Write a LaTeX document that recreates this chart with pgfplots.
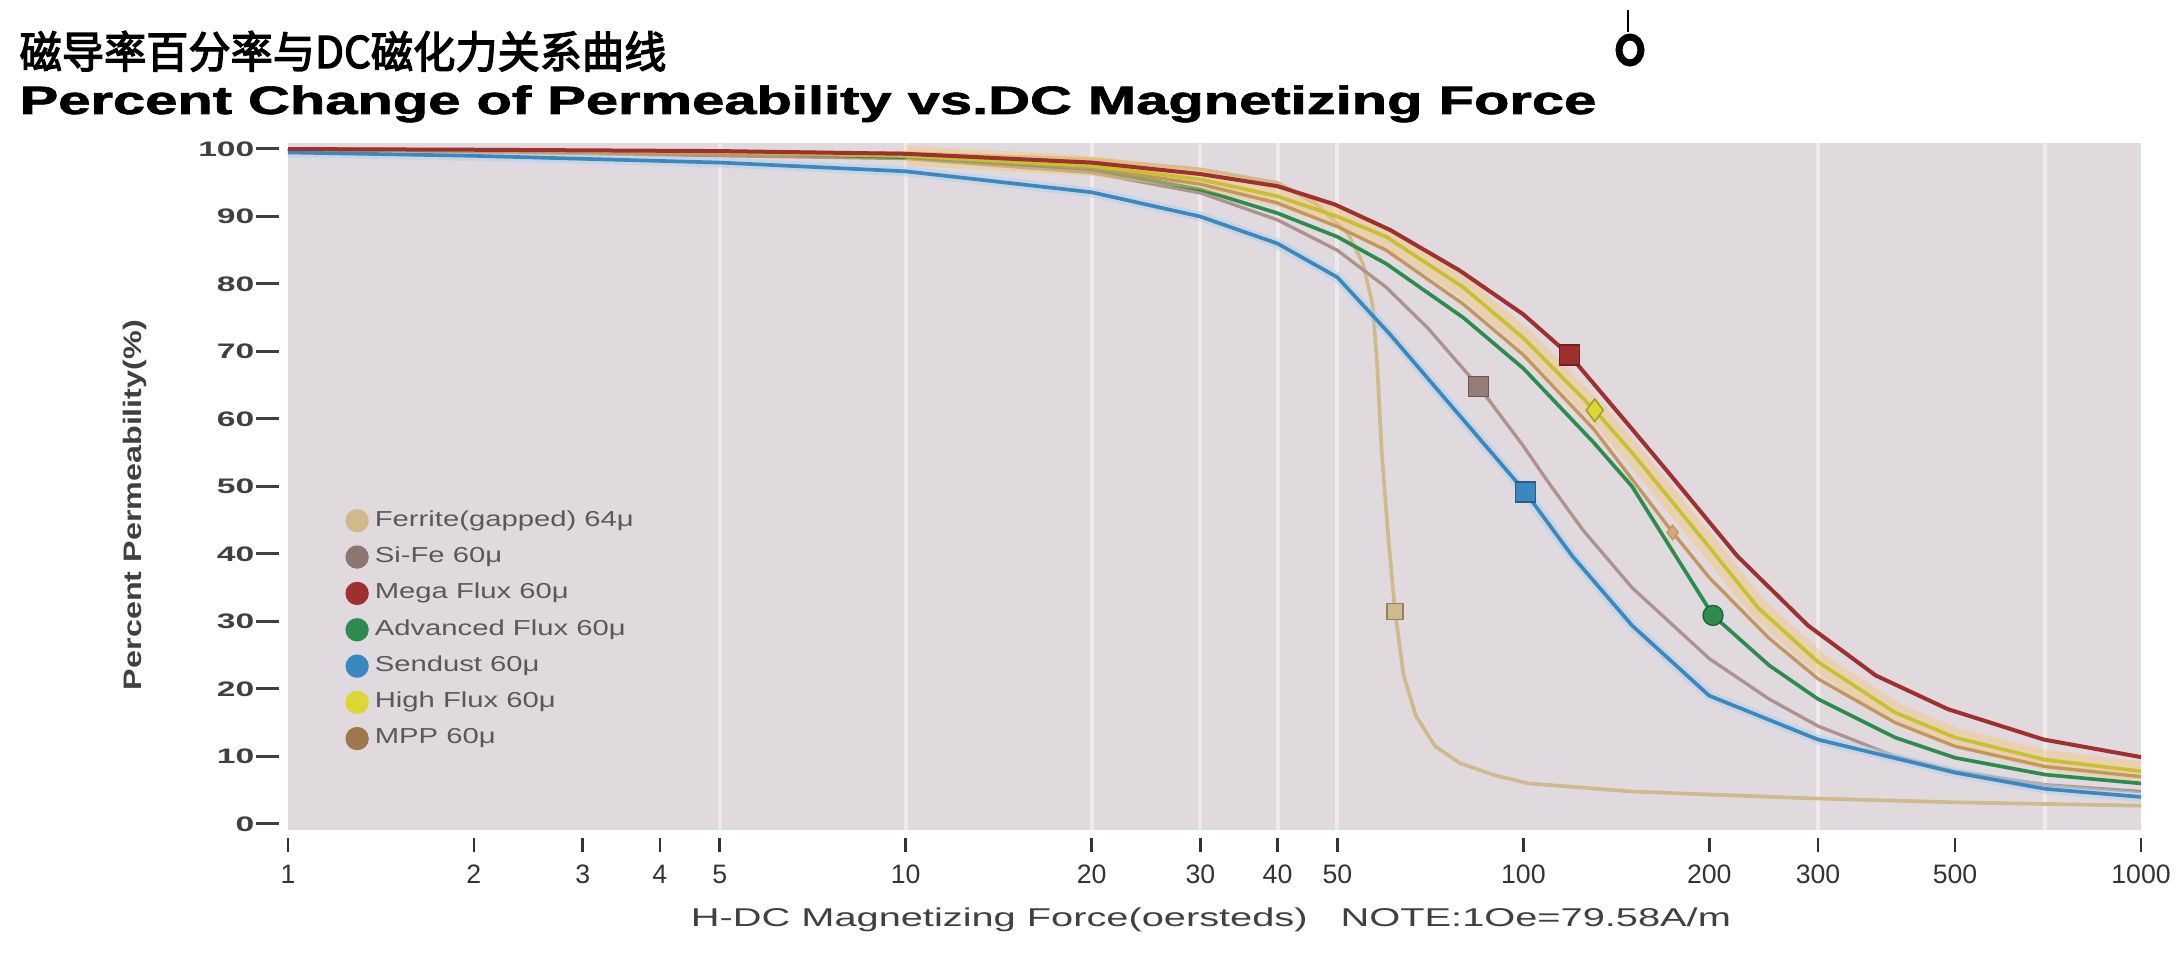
\documentclass[border=0pt]{standalone}
\usepackage{fontspec}
\setmainfont{Liberation Sans}
\newfontfamily\cjk[AutoFakeBold=3]{Noto Sans CJK SC}
\newfontfamily\heavy[AutoFakeBold=1.5]{Liberation Sans Bold}
\usepackage{graphicx}
\usepackage{pgfplots}
\pgfplotsset{compat=1.18}
\definecolor{bgc}{RGB}{224,218,222}
\definecolor{cred}{RGB}{160,48,46}
\definecolor{cyel}{RGB}{222,214,52}
\definecolor{cglow}{RGB}{244,196,120}
\definecolor{cmpp}{RGB}{196,150,92}
\definecolor{cgrn}{RGB}{44,140,78}
\definecolor{cblu}{RGB}{58,136,192}
\definecolor{csife}{RGB}{176,146,140}
\definecolor{cfer}{RGB}{206,186,138}
\newcommand\xt[1]{\rule{0.8pt}{4.2pt}\\#1}
\newcommand\yt[1]{\scalebox{1.6}[1]{\fontsize{6.3}{7}\selectfont\bfseries #1}\hspace{0.6pt}\rule[1.8pt]{6.9pt}{0.9pt}}
\newcommand\lgt[1]{\scalebox{1.35}[1]{#1}}
\begin{document}
\begin{tikzpicture}
\begin{axis}[
  xmode=log, xmin=1, xmax=1000, ymin=-0.9, ymax=100.9,
  scale only axis, width=555.9pt, height=206.1pt,
  axis line style={draw=none},
  axis background/.style={fill=bgc},
  tick style={draw=none},
  /pgf/number format/assume math mode=true,
  xtick={1,2,3,4,5,10,20,30,40,50,100,200,300,500,1000},
  xticklabels={\xt{1},\xt{2},\xt{3},\xt{4},\xt{5},\xt{10},\xt{20},\xt{30},\xt{40},\xt{50},\xt{100},\xt{200},\xt{300},\xt{500},\xt{1000}},
  xticklabel style={font=\fontsize{8}{9.6}\selectfont, align=center, anchor=north, inner sep=0pt, yshift=-2.1pt, text=black!80},
  minor xtick={},
  ytick={0,10,...,100},
  yticklabel={\yt{\pgfmathprintnumber{\tick}}},
  yticklabel style={anchor=east, inner sep=0pt, xshift=-2.4pt, text=black!75},
  extra x ticks={5,10,20,30,40,50,300,700},
  extra x tick labels={},
  extra x tick style={grid=major, major grid style={white, line width=1.2pt, opacity=0.45}},
  legend style={at={(0.031,0.476)}, anchor=north west, draw=none, fill=none,
    font=\fontsize{6.5}{8}\selectfont, row sep=0.7pt, inner sep=0pt, text=black!65},
  legend cell align=left,
]
\coordinate (BL) at (rel axis cs:0,0);
\coordinate (TR) at (rel axis cs:1,1);
% Ferrite
\addplot[forget plot, cfer, line width=1.1pt] coordinates {
(1,100) (10,99.4) (20,98.5) (30,97) (40,95) (46,92) (52,87.5) (55,83) (57,77) (58,68) (59,55) (60.5,42) (62,31.5) (64,22) (67,16) (72,11.5) (79,9) (90,7.2) (102,6) (150,4.8) (290,3.8) (500,3.2) (1000,2.7)};
% Si-Fe
\addplot[forget plot, csife, line width=1.0pt] coordinates {
(1,100) (10,98.6) (20,96.5) (30,93.5) (40,89.5) (50,85) (60,79.5) (70,73.5) (84.7,64.8) (100,56) (110,50.5) (125,43.5) (150,35) (200,24.5) (250,18.5) (300,14.5) (400,10) (500,7.8) (700,5.8) (1000,4.8)};
% Sendust
\addplot[forget plot, cblu!40, line width=3pt, opacity=0.5] coordinates {
(1,99.5) (2,99) (5,98) (10,96.7) (20,93.6) (30,90) (40,86) (50,81) (60.9,72.5) (78.9,60.5) (100.7,49.2) (120,39.7) (150,29.4) (200,19) (300,12.5) (500,7.6) (700,5.2) (1000,4)};
\addplot[forget plot, cblu, line width=1.1pt] coordinates {
(1,99.5) (2,99) (5,98) (10,96.7) (20,93.6) (30,90) (40,86) (50,81) (60.9,72.5) (78.9,60.5) (100.7,49.2) (120,39.7) (150,29.4) (200,19) (300,12.5) (500,7.6) (700,5.2) (1000,4)};
% Adv Flux
\addplot[forget plot, cgrn, line width=1.1pt] coordinates {
(1,100) (5,99.5) (10,98.8) (20,97) (30,94) (40,90.5) (50,87) (60,83) (80,75) (100,67.5) (130,56.5) (150,50) (202.8,30.9) (250,23.5) (300,18.5) (400,12.8) (500,9.8) (700,7.3) (1000,6)};
% High Flux glow + MPP + High Flux
\addplot[forget plot, cglow, line width=6pt, opacity=0.45] coordinates {
(10,99) (20,97.5) (30,95.5) (40,93) (50,90) (60,87) (80,79.5) (100,72) (130.5,61.3) (150,55) (200,41) (240,32) (300,24) (400,16.5) (500,12.8) (700,9.5) (1000,7.8)};
\addplot[forget plot, cmpp, line width=1.0pt] coordinates {
(1,100) (10,99) (20,97.2) (30,94.8) (40,92) (50,88.5) (60,85) (80,77) (100,69.5) (130,58.5) (174.5,43.2) (200,36.5) (250,27.5) (300,21.5) (400,15) (500,11.5) (700,8.5) (1000,7)};
\addplot[forget plot, cyel!90!black, line width=1.1pt] coordinates {
(1,100) (5,99.6) (10,99) (20,97.5) (30,95.5) (40,93) (50,90) (60,87) (80,79.5) (100,72) (130.5,61.3) (150,55) (200,41) (240,32) (300,24) (400,16.5) (500,12.8) (700,9.5) (1000,7.8)};
% Mega Flux
\addplot[forget plot, cred, line width=1.2pt] coordinates {
(1,100) (2,99.9) (5,99.7) (10,99.3) (20,98) (30,96.3) (40,94.5) (49.5,91.8) (60.9,88) (78.9,82) (100,75.5) (118.7,69.5) (150,58.5) (172,52) (222,39.7) (289,29.4) (372,22) (487,17) (696,12.5) (1000,9.9)};
% markers
\addplot[forget plot, only marks, mark=square*, mark size=2.4pt, mark options={fill=cfer, draw=cfer!70!black}] coordinates {(62,31.5)};
\addplot[forget plot, only marks, mark=square*, mark size=3pt, mark options={fill=csife!85!black, draw=csife!60!black}] coordinates {(84.7,64.8)};
\addplot[forget plot, only marks, mark=square*, mark size=3pt, mark options={fill=cblu, draw=cblu!70!black}] coordinates {(100.7,49.2)};
\addplot[forget plot, only marks, mark=*, mark size=3pt, mark options={fill=cgrn, draw=cgrn!70!black}] coordinates {(202.8,30.9)};
\addplot[forget plot, only marks, mark=diamond*, mark size=3.4pt, mark options={fill=cyel, draw=cyel!70!black}] coordinates {(130.5,61.3)};
\addplot[forget plot, only marks, mark=diamond*, mark size=2.2pt, mark options={fill=cmpp!80, draw=cmpp}] coordinates {(174.5,43.2)};
\addplot[forget plot, only marks, mark=square*, mark size=3pt, mark options={fill=cred, draw=cred!70!black}] coordinates {(118.7,69.5)};
% legend
\addlegendimage{only marks, mark=*, mark size=3.3pt, color=cfer}
\addlegendentry{\lgt{Ferrite(gapped) 64μ}}
\addlegendimage{only marks, mark=*, mark size=3.3pt, color=csife!80!black}
\addlegendentry{\lgt{Si-Fe 60μ}}
\addlegendimage{only marks, mark=*, mark size=3.3pt, color=cred}
\addlegendentry{\lgt{Mega Flux 60μ}}
\addlegendimage{only marks, mark=*, mark size=3.3pt, color=cgrn}
\addlegendentry{\lgt{Advanced Flux 60μ}}
\addlegendimage{only marks, mark=*, mark size=3.3pt, color=cblu}
\addlegendentry{\lgt{Sendust 60μ}}
\addlegendimage{only marks, mark=*, mark size=3.3pt, color=cyel}
\addlegendentry{\lgt{High Flux 60μ}}
\addlegendimage{only marks, mark=*, mark size=3.3pt, color=cmpp!80!black}
\addlegendentry{\lgt{MPP 60μ}}
\end{axis}
\node[anchor=base west, inner sep=0pt] at ([shift={(-80.7pt,228.6pt)}]BL)
  {\resizebox{194pt}{11.1pt}{\cjk\bfseries 磁导率百分率与DC磁化力关系曲线}};
\node[anchor=base west, inner sep=0pt] at ([shift={(-80.7pt,214.8pt)}]BL)
  {\resizebox{473pt}{8.6pt}{\heavy\bfseries Percent Change of Permeability vs.DC Magnetizing Force}};
\draw[line width=2.1pt] ([shift={(402.6pt,234pt)}]BL) ellipse [x radius=3.3pt, y radius=3.9pt];
\draw[line width=0.5pt] ([shift={(402pt,239.5pt)}]BL) -- ([shift={(402pt,246pt)}]BL);
\node[rotate=90, inner sep=0pt, text=black!75] at ([shift={(-45.9pt,97.5pt)}]BL)
  {\resizebox{111pt}{5.5pt}{\bfseries Percent Permeability(\%)}};
\node[inner sep=0pt, text=black!75] at ([shift={(276.9pt,-27pt)}]BL)
  {\resizebox{312pt}{5.6pt}{\fontsize{7}{8}\selectfont H-DC Magnetizing Force(oersteds)\ \ \ NOTE:1Oe=79.58A/m}};
\pgfresetboundingbox
\path[use as bounding box] ([shift={(-86.4pt,-40.5pt)}]BL) rectangle ([shift={(11.7pt,42.9pt)}]TR);
\end{tikzpicture}
\end{document}
